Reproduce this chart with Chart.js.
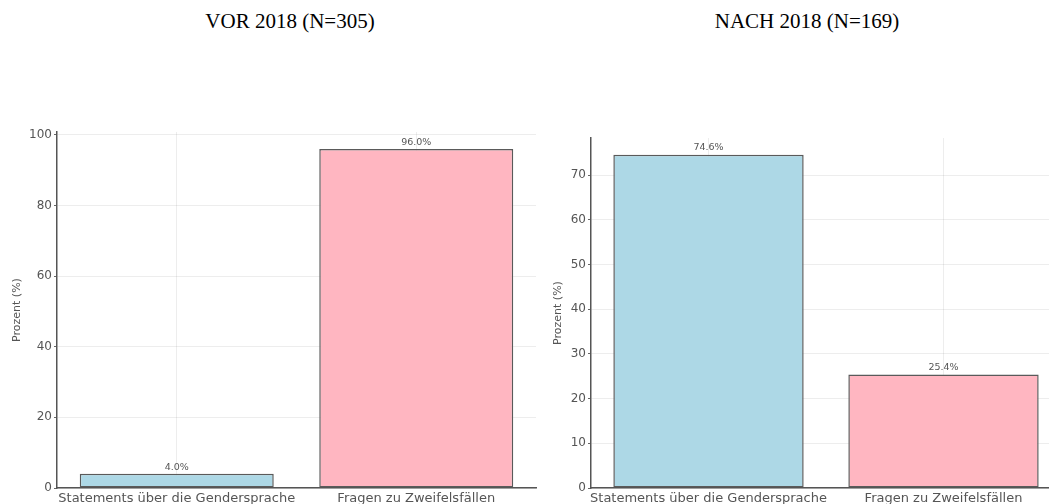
<!DOCTYPE html>
<html>
<head>
<meta charset="utf-8">
<script src="https://cdn.jsdelivr.net/npm/chart.js@4"></script>
<style>
  html, body { margin: 0; padding: 0; background: #fff; overflow: hidden; width: 1049px; height: 504px; }
  .title { position: absolute; top: 9px; transform: translateX(-50%); font-family: "Liberation Serif", "Times New Roman", serif; font-size: 21px; color: #000; white-space: nowrap; }
  .box { position: absolute; top: 0; height: 504px; }
</style>
</head>
<body>
<div class="title" style="left:290px">VOR 2018 (N=305)</div>
<div class="title" style="left:807px">NACH 2018 (N=169)</div>
<div class="box" style="left:0;width:540px"><canvas id="vor"></canvas></div>
<div class="box" style="left:534px;width:530px"><canvas id="nach"></canvas></div>
<script>
// Kategorien und Werte
const categories = ["Statements über die Gendersprache", "Fragen zu Zweifelsfällen"];
const vorValues = [4.0, 96.0];
const nachValues = [74.6, 25.4];
const barColors = ["#add8e6", "#ffb6c1"];

// Prozentwerte über die Balken schreiben
const valueLabels = {
    id: "valueLabels",
    afterDatasetsDraw(chart) {
        const ctx = chart.ctx;
        const meta = chart.getDatasetMeta(0);
        ctx.save();
        ctx.font = "9.5px 'DejaVu Sans'";
        ctx.fillStyle = "#555";
        ctx.textAlign = "center";
        ctx.textBaseline = "bottom";
        meta.data.forEach((bar, i) => {
            const v = chart.data.datasets[0].data[i];
            ctx.fillText(v.toFixed(1) + "%", bar.x, bar.y - 2);
        });
        ctx.restore();
    }
};

function makeChart(id, values, yMax, step, padTop, padRight, titlePad) {
    const ctx = document.getElementById(id).getContext("2d");
    return new Chart(ctx, {
        type: "bar",
        data: {
            labels: categories,
            datasets: [{
                data: values,
                backgroundColor: barColors,
                borderColor: "#5a5a5a",
                borderWidth: 1.5,
                borderSkipped: false,
                categoryPercentage: 1.0,
                barPercentage: 0.81
            }]
        },
        options: {
            responsive: true,
            maintainAspectRatio: false,
            animation: false,
            layout: { padding: { top: padTop, right: padRight, left: 0, bottom: 0 } },
            plugins: { legend: { display: false }, tooltip: { enabled: false } },
            scales: {
                x: {
                    z: 1,
                    grid: { offset: false, color: "rgba(0,0,0,0.07)", drawTicks: false },
                    border: { display: true, color: "#555", width: 1.5 },
                    ticks: { autoSkip: false, color: "#555", font: { family: "DejaVu Sans", size: 13 }, padding: 3, maxRotation: 0, minRotation: 0 },
                    afterFit: s => { s.height = 16; }
                },
                y: {
                    z: 1,
                    min: 0,
                    max: yMax,
                    grid: { color: "rgba(0,0,0,0.07)", drawTicks: true, tickLength: 3, tickColor: "#666" },
                    border: { display: true, color: "#555", width: 1.5 },
                    ticks: { stepSize: step, includeBounds: false, color: "#555", font: { family: "DejaVu Sans", size: 12 }, padding: 2 },
                    title: { display: true, text: "Prozent (%)", color: "#555", font: { family: "DejaVu Sans", size: 11 }, padding: { top: titlePad, bottom: 0 } },
                    afterFit: s => { s.width = 57; }
                }
            }
        },
        plugins: [valueLabels]
    });
}

makeChart("vor", vorValues, 100.8, 20, 132, 4, 11);
makeChart("nach", nachValues, 78.33, 10, 138, 3, 18);
</script>
</body>
</html>
